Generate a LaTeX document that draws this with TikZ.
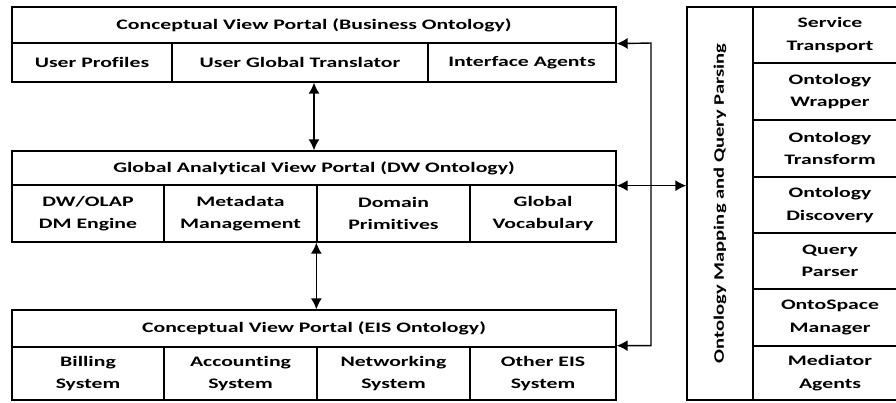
\documentclass[tikz,border=0pt]{standalone}
\usepackage{fontspec}
\setmainfont{Carlito}[FakeStretch=1.5,Ligatures=NoCommon]
\newfontfamily\vertfont{Carlito}[FakeStretch=1.42,Ligatures=NoCommon]
\usetikzlibrary{arrows.meta,calc}
\begin{document}
\begin{tikzpicture}[x=1pt,y=-1pt,
  box/.style={draw,line width=1.3pt,inner sep=0pt,align=center,
     font=\bfseries\fontsize{14.5}{22.5}\selectfont},
  arr/.style={line width=1.4pt,{Latex[length=11pt,width=11pt]}-{Latex[length=11pt,width=11pt]}}]
\useasboundingbox (0,0) rectangle (896,402);
\newcommand{\cell}[6][]{\node[box,minimum width={#4-#2},minimum height={#5-#3},#1] (#6) at ({(#2+#4)/2},{(#3+#5)/2})}
% top box
\cell{12}{7}{616}{43}{t1} {Conceptual View Portal (Business Ontology)};
\cell{12}{43}{172}{82}{up} {User Profiles};
\cell{172}{43}{428}{82}{ugt} {User Global Translator};
\cell{428}{43}{616}{82}{ia} {Interface Agents};
% middle box
\cell{12}{151}{616}{185}{m1} {Global Analytical View Portal (DW Ontology)};
\cell{12}{185}{164}{242}{dw} {DW/OLAP\\DM Engine};
\cell{164}{185}{317}{242}{mm} {Metadata\\Management};
\cell{317}{185}{470}{242}{dp} {Domain\\Primitives};
\cell{470}{185}{616}{242}{gv} {Global\\Vocabulary};
% bottom box
\cell{12}{310}{616}{347}{b1} {Conceptual View Portal (EIS Ontology)};
\cell{12}{347}{164}{400}{bs} {Billing\\System};
\cell{164}{347}{317}{400}{as} {Accounting\\System};
\cell{317}{347}{470}{400}{ns} {Networking\\System};
\cell{470}{347}{616}{400}{os} {Other EIS\\System};
% right box
\cell{687}{7}{753}{400}{om} {\rotatebox{90}{\vertfont\bfseries Ontology Mapping and Query Parsing}};
\cell{753}{7}{907}{63}{st} {Service\\Transport};
\cell{753}{63}{907}{120}{ow} {Ontology\\Wrapper};
\cell{753}{120}{907}{177}{ot} {Ontology\\Transform};
\cell{753}{177}{907}{233}{od} {Ontology\\Discovery};
\cell{753}{233}{907}{289}{qp} {Query\\Parser};
\cell{753}{289}{907}{346}{osm} {OntoSpace\\Manager};
\cell{753}{346}{907}{400}{ma} {Mediator\\Agents};
% connectors
\draw[arr] (ugt.south -| m1.north) -- (m1.north);
\draw[arr] (dp.south west) -- (dp.south west |- b1.north);
\coordinate (bus) at (651,43);
\draw[arr] (t1.south east) -- (bus) |- ($(b1.south east)+(0,-2)$);
\draw[arr] (m1.south east) -- (m1.south east -| om.west);
\end{tikzpicture}
\end{document}
